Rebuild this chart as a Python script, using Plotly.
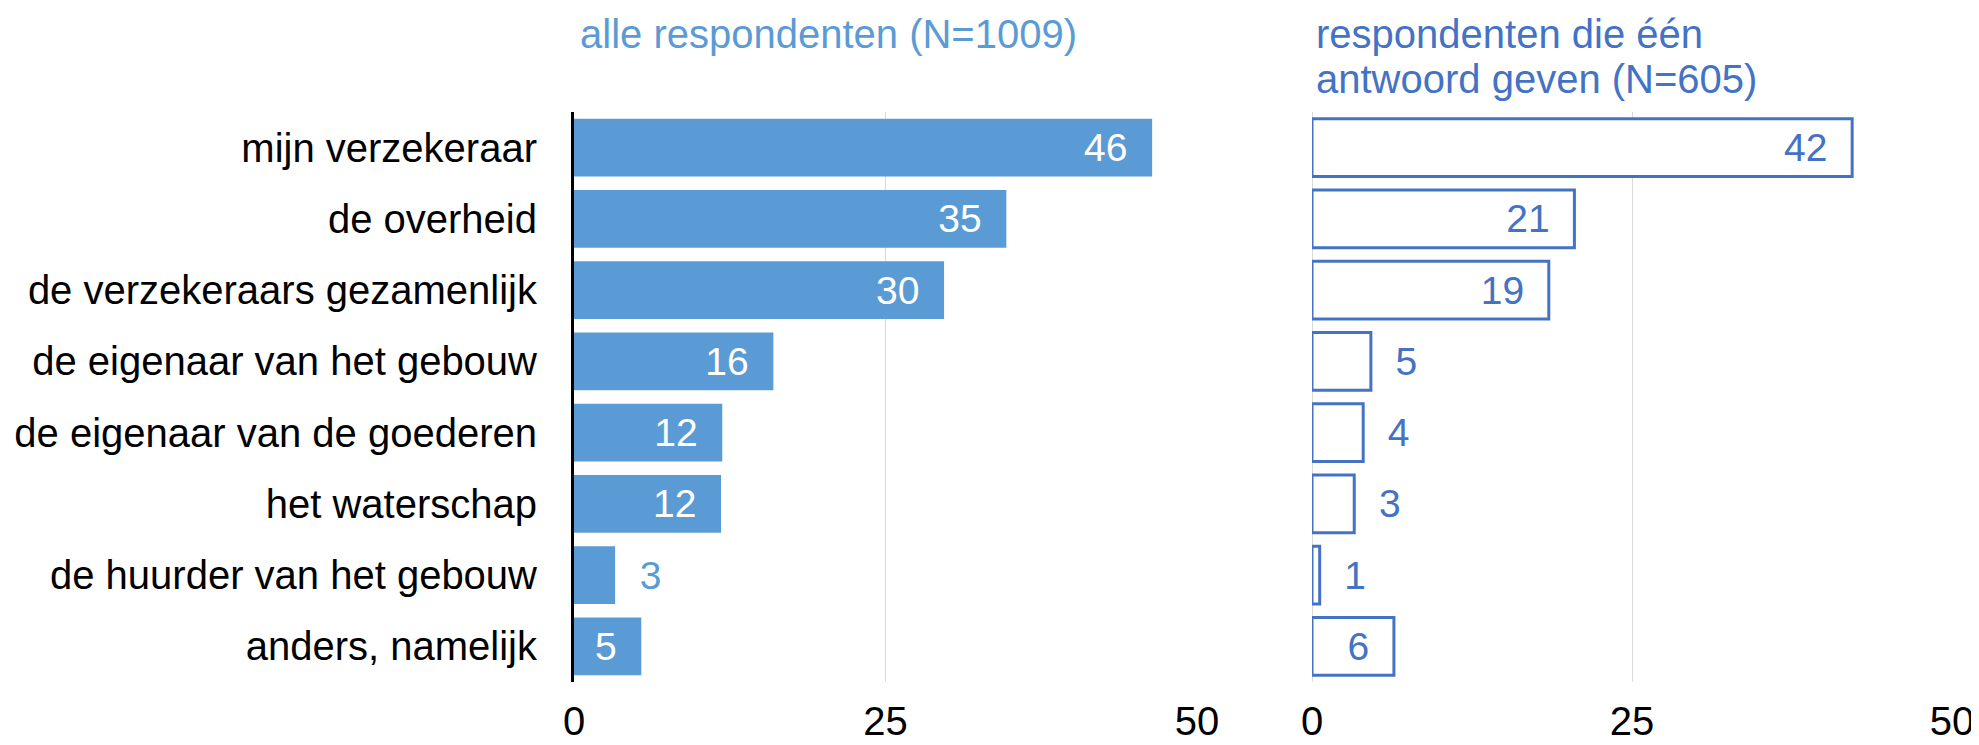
import plotly.graph_objects as go

categories = [
    "mijn verzekeraar",
    "de overheid",
    "de verzekeraars gezamenlijk",
    "de eigenaar van het gebouw",
    "de eigenaar van de goederen",
    "het waterschap",
    "de huurder van het gebouw",
    "anders, namelijk",
]
all_values = [46.4, 34.7, 29.7, 16.0, 11.9, 11.8, 3.3, 5.4]
all_labels = [46, 35, 30, 16, 12, 12, 3, 5]
all_positions = ["inside", "inside", "inside", "inside", "inside", "inside", "outside", "inside"]

one_values = [42.2, 20.5, 18.5, 4.6, 4.0, 3.3, 0.6, 6.4]
one_labels = [42, 21, 19, 5, 4, 3, 1, 6]
one_positions = ["inside", "inside", "inside", "outside", "outside", "outside", "outside", "inside"]

title_all = "alle respondenten (N=1009)"
title_one = ["respondenten die één", "antwoord geven (N=605)"]
tick_vals = [0, 25, 50]
tick_text = ["0", "25", "50"]

FONT = "Liberation Sans, Arial, sans-serif"
LIGHT = "#5B9BD5"
DARK = "#4472C4"
NB = "\u00a0\u00a0"


def fmt(labels, positions):
    return [f"{l}{NB}" if p == "inside" else f"{NB}{l}" for l, p in zip(labels, positions)]


# page body has an 8px default margin; the figure is sized/positioned to compensate
OFF = 8
W, H = 1979 - OFF, 745 - OFF
T = 111.5 - OFF
B = H - (681.6 - OFF)

fig = go.Figure()
fig.add_trace(go.Bar(
    y=categories, x=all_values, orientation="h",
    marker=dict(color=LIGHT, line=dict(width=0)),
    text=fmt(all_labels, all_positions),
    textposition=all_positions,
    insidetextanchor="end",
    constraintext="none",
    insidetextfont=dict(family=FONT, size=39, color="white"),
    outsidetextfont=dict(family=FONT, size=39, color=LIGHT),
    cliponaxis=False,
    xaxis="x", yaxis="y",
    hoverinfo="skip",
))
fig.add_trace(go.Bar(
    y=categories, x=one_values, orientation="h",
    marker=dict(color="white", line=dict(color=DARK, width=3)),
    text=fmt(one_labels, one_positions),
    textposition=one_positions,
    insidetextanchor="end",
    constraintext="none",
    insidetextfont=dict(family=FONT, size=39, color=DARK),
    outsidetextfont=dict(family=FONT, size=39, color=DARK),
    cliponaxis=False,
    xaxis="x2", yaxis="y2",
    hoverinfo="skip",
))

axis_common = dict(
    range=[0, 50], tickvals=tick_vals, ticktext=tick_text,
    showgrid=True, gridcolor="#D9D9D9", gridwidth=1,
    tickfont=dict(family=FONT, size=40, color="black"),
    ticks="", ticklabelstandoff=12, fixedrange=True, automargin=False,
)


def dx(xpix):
    return (xpix - OFF) / W


fig.update_layout(
    template="none",
    width=W, height=H,
    margin=dict(l=0, r=0, t=T, b=B, autoexpand=False),
    paper_bgcolor="white", plot_bgcolor="white",
    showlegend=False,
    bargap=0.186,
    xaxis=dict(domain=[dx(574), dx(1197)], zeroline=False, anchor="y", **axis_common),
    xaxis2=dict(domain=[dx(1312), dx(1952)], zeroline=True, zerolinecolor="#D9D9D9",
                zerolinewidth=1, anchor="y2", **axis_common),
    yaxis=dict(categoryorder="array", categoryarray=categories, autorange="reversed",
               showline=True, linecolor="black", linewidth=3, anchor="x",
               tickfont=dict(family=FONT, size=40, color="black"),
               ticks="", ticklabelstandoff=26, showgrid=False, fixedrange=True,
               automargin=False, zeroline=False),
    yaxis2=dict(categoryorder="array", categoryarray=categories, autorange="reversed",
                anchor="x2", showticklabels=False, showgrid=False, showline=False,
                fixedrange=True, automargin=False, zeroline=False),
    font=dict(family=FONT),
)

ph = H - T - B


def py(ypix):
    return (H - B - (ypix - OFF)) / ph


def px(xpix):
    return (xpix - OFF) / W


fig.add_annotation(text=title_all, xref="paper", yref="paper", x=px(578), y=py(33),
                   xanchor="left", yanchor="middle", showarrow=False,
                   font=dict(family=FONT, size=40, color=LIGHT))
for i, line in enumerate(title_one):
    fig.add_annotation(text=line, xref="paper", yref="paper", x=px(1314), y=py(33 + 45 * i),
                       xanchor="left", yanchor="middle", showarrow=False,
                       font=dict(family=FONT, size=40, color=DARK))

fig.write_html("out.html")
